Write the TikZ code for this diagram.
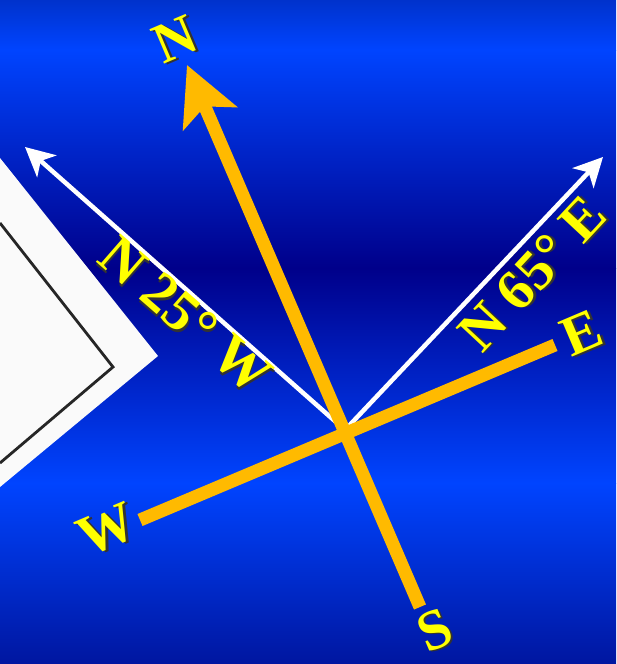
\documentclass[tikz,border=0pt]{standalone}
\usepackage{fontspec}
\setmainfont{Liberation Serif}
\usetikzlibrary{arrows.meta}
\definecolor{topblue}{HTML}{0032CC}
\definecolor{skyblue}{HTML}{0044FF}
\definecolor{navyband}{HTML}{00008A}
\definecolor{bottomblue}{HTML}{0016A0}
\definecolor{compassorange}{HTML}{FFBA00}
\definecolor{labelyellow}{HTML}{FFFF00}
\definecolor{cardwhite}{HTML}{FAFAFA}
\newcommand{\shadowed}[1]{\makebox[0pt][l]{\hspace{2pt}\raisebox{-2pt}{\color{black!80}#1}}#1}

\begin{document}
\begin{tikzpicture}[x=1pt, y=-1pt,
    bearing/.style={line width=13pt, compassorange},
    whitearrow/.style={line width=4.5pt, white, -{Stealth[length=29pt, width=29pt, inset=8pt]}},
    letter/.style={font=\fontsize{57}{57}\selectfont\bfseries, text=labelyellow, inner sep=0pt},
]
    \useasboundingbox (0,0) rectangle (616,664);

    % Background bands
    \shade[top color=topblue, bottom color=skyblue] (0,0) rectangle (616,50);
    \shade[top color=skyblue, bottom color=navyband] (0,50) rectangle (616,268);
    \shade[top color=navyband, bottom color=skyblue] (0,268) rectangle (616,483);
    \shade[top color=skyblue, bottom color=bottomblue] (0,483) rectangle (616,664);

    % Corner of the page on the left
    \fill[cardwhite] (0,158) -- (158,356) -- (0,487) -- cycle;
    \draw[black!85, line width=2.8pt] (0,223) -- (113,367) -- (0,463);

    % Compass points
    \coordinate (O) at (345,430);
    \coordinate (ntip) at (187,65);
    \coordinate (send) at (420,607);
    \coordinate (wend) at (140,520);
    \coordinate (eend) at (555,345);
    \coordinate (nwtip) at (25,147);
    \coordinate (netip) at (603,157);

    % Bearings
    \draw[whitearrow] (O) -- (nwtip);
    \draw[whitearrow] (O) -- (netip);

    % Cross
    \draw[bearing] (wend) -- (eend);
    \draw[bearing, -{Stealth[length=58pt, width=58pt, inset=13pt]}] (send) -- (ntip);

    % Labels
    \node[letter, rotate=23] (nlabel) at (176,40) {\shadowed{N}};
    \node[letter, rotate=23] (slabel) at (435,631) {\shadowed{S}};
    \node[letter, rotate=23] (wlabel) at (107,530) {\shadowed{W}};
    \node[letter, rotate=23] (elabel) at (582,334) {\shadowed{E}};
    \node[letter, rotate=-41] (nwlabel) at (185,316) {\shadowed{N 25° W}};
    \node[letter, rotate=47] (nelabel) at (533,274) {\shadowed{N 65° E}};

\end{tikzpicture}
\end{document}
